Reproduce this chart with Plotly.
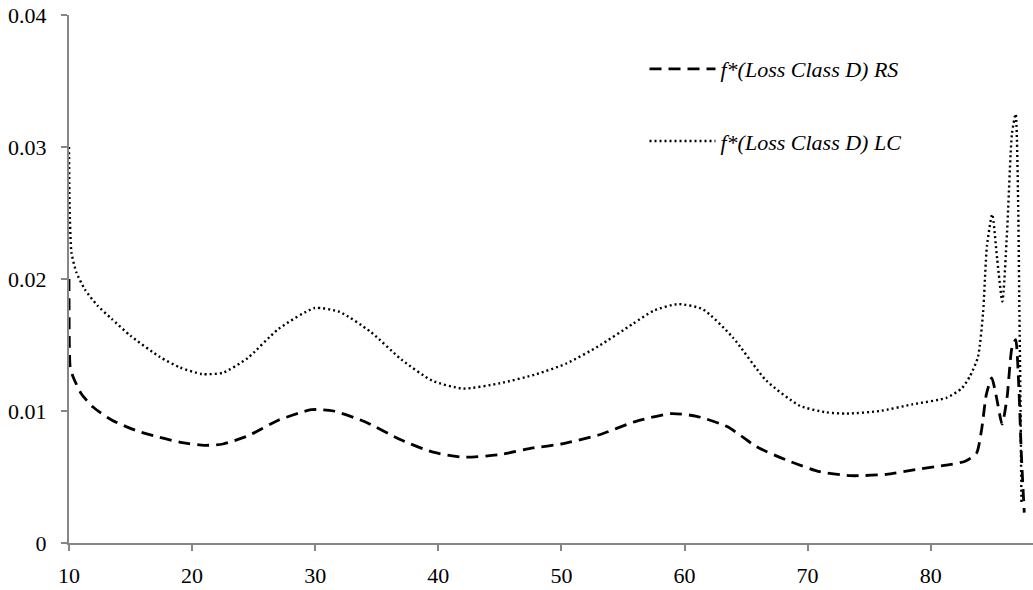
import plotly.graph_objects as go

# Series: f*(Loss Class D) RS (dashed)
rs_x = [10.0, 10.03, 10.1, 10.33, 11.0, 11.95, 13.5, 15.5, 17.37, 19.2, 21.0, 22.5, 24.5, 27.0,
        29.7, 31.5, 34.0, 37.0, 39.5, 42.0, 45.0, 47.7, 50.0, 53.1, 56.0, 58.9, 61.0, 63.5,
        65.84, 68.5, 71.0, 73.5, 76.4, 79.0, 81.28, 82.8, 83.72, 84.12, 84.53, 84.96, 85.35,
        85.8, 86.2, 86.6, 86.9, 87.15, 87.35, 87.6]
rs_y = [0.0200, 0.0150, 0.0133, 0.0126, 0.0113, 0.0103, 0.0093, 0.0085, 0.0080, 0.0076, 0.0074,
        0.0075, 0.0081, 0.0093, 0.0101, 0.0100, 0.0092, 0.0078, 0.0069, 0.0065, 0.0067, 0.0072,
        0.0075, 0.0082, 0.0092, 0.0098, 0.0096, 0.0088, 0.0073, 0.0062, 0.0054, 0.0051, 0.0052,
        0.0056, 0.0059, 0.0062, 0.0068, 0.0085, 0.0113, 0.0125, 0.0110, 0.0090, 0.0110, 0.0148,
        0.0154, 0.0120, 0.0070, 0.0023]

# Series: f*(Loss Class D) LC (dotted)
lc_x = [10.0, 10.05, 10.2, 10.6, 11.3, 12.3, 13.44, 15.0, 17.37, 19.0, 20.8, 22.5, 24.5, 27.0,
        29.96, 32.0, 34.5, 37.0, 39.5, 42.0, 45.0, 48.0, 50.4, 53.0, 55.8, 57.5, 59.5, 61.5,
        63.9, 66.65, 69.36, 71.5, 73.15, 75.86, 78.5, 81.28, 82.5, 83.17, 83.84, 84.25, 84.57,
        85.0, 85.4, 85.82, 86.2, 86.6, 86.9, 87.1, 87.2, 87.3, 87.37]
lc_y = [0.0300, 0.0255, 0.0220, 0.0205, 0.0192, 0.0180, 0.0170, 0.0157, 0.0141, 0.0133, 0.0128,
        0.0129, 0.0140, 0.0162, 0.0178, 0.0175, 0.0160, 0.0139, 0.0123, 0.0117, 0.0121, 0.0128,
        0.0136, 0.0149, 0.0166, 0.0176, 0.0181, 0.0177, 0.0156, 0.0123, 0.0104, 0.0099, 0.0098,
        0.0100, 0.0105, 0.0110, 0.0117, 0.0126, 0.0141, 0.0174, 0.0225, 0.0249, 0.0215, 0.0183,
        0.0235, 0.0310, 0.0325, 0.0260, 0.0180, 0.0100, 0.0030]

x_ticks = [10, 20, 30, 40, 50, 60, 70, 80]
y_ticks = [0, 0.01, 0.02, 0.03, 0.04]
y_tick_labels = ["0", "0.01", "0.02", "0.03", "0.04"]

FONT = '"Liberation Serif", "Times New Roman", Times, serif'
AXIS_GRAY = "#868686"
FS = 22

fig = go.Figure()
fig.add_trace(go.Scatter(
    x=rs_x, y=rs_y, mode="lines", name="f*(Loss Class D) RS",
    line=dict(color="black", width=2.8, dash="12px,7px", shape="spline", smoothing=0.6),
    legend="legend",
))
fig.add_trace(go.Scatter(
    x=lc_x, y=lc_y, mode="lines", name="f*(Loss Class D) LC",
    line=dict(color="black", width=2.4, dash="2px,3px", shape="spline", smoothing=0.6),
    legend="legend2",
))

legend_common = dict(
    font=dict(family=FONT, size=FS, color="black", style="italic"),
    bgcolor="rgba(0,0,0,0)", itemwidth=66, xanchor="left", yanchor="middle",
)

fig.update_layout(
    width=1033, height=590,
    margin=dict(l=69, r=0, t=15, b=47),
    paper_bgcolor="white", plot_bgcolor="white",
    font=dict(family=FONT, size=FS, color="black"),
    showlegend=True,
    legend=dict(x=0.597, y=0.8976, **legend_common),
    legend2=dict(x=0.597, y=0.761, **legend_common),
    xaxis=dict(
        range=[10, 88.31], tickmode="array", tickvals=x_ticks,
        showgrid=False, zeroline=False, showline=True, linecolor=AXIS_GRAY, linewidth=2,
        ticks="outside", ticklen=6, tickwidth=2, tickcolor=AXIS_GRAY,
        tickfont=dict(family=FONT, size=FS, color="black"), ticklabelstandoff=6,
    ),
    yaxis=dict(
        range=[0, 0.04], tickmode="array", tickvals=y_ticks, ticktext=y_tick_labels,
        showgrid=False, zeroline=False, showline=True, linecolor=AXIS_GRAY, linewidth=2,
        ticks="outside", ticklen=6, tickwidth=2, tickcolor=AXIS_GRAY,
        tickfont=dict(family=FONT, size=FS, color="black"), ticklabelstandoff=10,
    ),
)

fig.write_html("out.html", config={"displayModeBar": False},
               post_script="document.body.style.margin='0px';")
